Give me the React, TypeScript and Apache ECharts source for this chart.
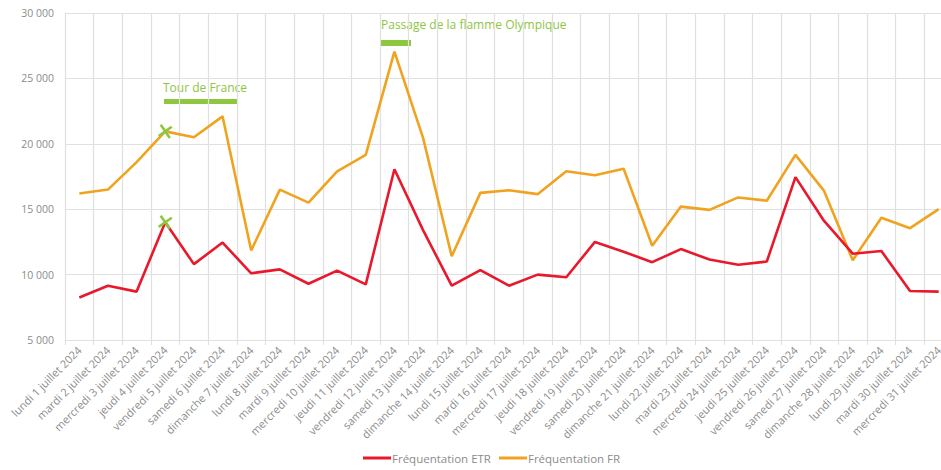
import React, { useEffect, useRef } from "react";
import * as echarts from "echarts";

const categories = [
  "lundi 1 juillet 2024", "mardi 2 juillet 2024", "mercredi 3 juillet 2024", "jeudi 4 juillet 2024",
  "vendredi 5 juillet 2024", "samedi 6 juillet 2024", "dimanche 7 juillet 2024", "lundi 8 juillet 2024",
  "mardi 9 juillet 2024", "mercredi 10 juillet 2024", "jeudi 11 juillet 2024", "vendredi 12 juillet 2024",
  "samedi 13 juillet 2024", "dimanche 14 juillet 2024", "lundi 15 juillet 2024", "mardi 16 juillet 2024",
  "mercredi 17 juillet 2024", "jeudi 18 juillet 2024", "vendredi 19 juillet 2024", "samedi 20 juillet 2024",
  "dimanche 21 juillet 2024", "lundi 22 juillet 2024", "mardi 23 juillet 2024", "mercredi 24 juillet 2024",
  "jeudi 25 juillet 2024", "vendredi 26 juillet 2024", "samedi 27 juillet 2024", "dimanche 28 juillet 2024",
  "lundi 29 juillet 2024", "mardi 30 juillet 2024", "mercredi 31 juillet 2024",
];

const frequentationETR = [
  8250, 9150, 8700, 14000, 10800, 12450, 10100, 10400, 9300, 10300, 9250, 18050, 13400, 9150, 10350, 9150,
  10000, 9800, 12500, 11750, 10950, 11950, 11150, 10750, 11000, 17450, 14100, 11600, 11800, 8750, 8700,
];

const frequentationFR = [
  16200, 16500, 18600, 20950, 20500, 22100, 11850, 16500, 15500, 17900, 19150, 27050, 20450, 11400, 16250, 16450,
  16150, 17900, 17600, 18100, 12200, 15200, 14950, 15900, 15650, 19150, 16400, 11100, 14350, 13550, 15000,
];

const yTicks = { min: 5000, max: 30000, interval: 5000 };

const seriesNames = ["Fréquentation ETR", "Fréquentation FR"];
const markerIndex = 3;

const annotations = [
  { text: "Tour de France" },
  { text: "Passage de la flamme Olympique" },
];

const GREEN = "#8dc63f";
const GRAY_TEXT = "#8c8c8c";
const GRID = "#e0e0e0";
const FONT = "'Open Sans', 'Noto Sans', sans-serif";
const crossPath = "path://M4.2,0h1.6v4.2h4.2v1.6h-4.2v4.2h-1.6v-4.2h-4.2v-1.6h4.2z";

const fmt = (v: number) => String(v).replace(/\B(?=(\d{3})+(?!\d))/g, " ");

export default function App() {
  const ref = useRef<HTMLDivElement>(null);
  useEffect(() => {
    if (!ref.current) return;
    const chart = echarts.init(ref.current, undefined, { renderer: "svg" });
    const mk = (val: number) => ({
      symbol: crossPath,
      symbolSize: 16,
      symbolRotate: 35,
      itemStyle: { color: GREEN },
      label: { show: false },
      data: [{ coord: [markerIndex, val] }],
    });
    chart.setOption({
      animation: false,
      backgroundColor: "#ffffff",
      textStyle: { fontFamily: FONT },
      grid: { left: 65, right: 0, top: 13, bottom: 130, containLabel: false },
      legend: {
        left: 358,
        bottom: 1,
        icon: "rect",
        itemWidth: 28,
        itemHeight: 3,
        itemGap: 8,
        textStyle: { color: GRAY_TEXT, fontSize: 11.5, fontFamily: FONT, padding: [0, 0, 0, -4] },
        data: seriesNames,
      },
      xAxis: {
        type: "category",
        data: categories,
        boundaryGap: true,
        axisLine: { show: true, lineStyle: { color: GRID } },
        axisTick: { show: true, length: 5, lineStyle: { color: GRID } },
        splitLine: { show: true, lineStyle: { color: GRID, width: 1.2 } },
        axisLabel: {
          interval: 0,
          rotate: 45,
          color: GRAY_TEXT,
          fontSize: 11,
          fontFamily: FONT,
          margin: 8,
        },
      },
      yAxis: {
        type: "value",
        min: yTicks.min,
        max: yTicks.max,
        interval: yTicks.interval,
        axisLine: { show: true, lineStyle: { color: GRID } },
        axisTick: { show: false },
        splitLine: { show: true, lineStyle: { color: GRID, width: 1.2 } },
        axisLabel: { color: GRAY_TEXT, fontSize: 10.5, fontFamily: FONT, margin: 11, formatter: fmt },
      },
      series: [
        {
          name: seriesNames[0],
          type: "line",
          data: frequentationETR,
          showSymbol: false,
          symbol: "none",
          color: "#e8192c",
          lineStyle: { width: 2.6, color: "#e8192c" },
          markPoint: mk(frequentationETR[markerIndex]),
          z: 3,
        },
        {
          name: seriesNames[1],
          type: "line",
          data: frequentationFR,
          showSymbol: false,
          symbol: "none",
          color: "#f0a31f",
          lineStyle: { width: 2.6, color: "#f0a31f" },
          markPoint: mk(frequentationFR[markerIndex]),
          z: 2,
        },
      ],
      graphic: [
        {
          type: "text",
          left: 163,
          top: 81,
          style: { text: annotations[0].text, fill: GREEN, font: `12px ${FONT}` },
        },
        { type: "rect", shape: { x: 164, y: 99, width: 73, height: 5 }, style: { fill: GREEN } },
        {
          type: "text",
          left: 381,
          top: 18,
          style: { text: annotations[1].text, fill: GREEN, font: `12px ${FONT}` },
        },
        { type: "rect", shape: { x: 381, y: 40, width: 30, height: 6 }, style: { fill: GREEN } },
      ],
    });
    return () => chart.dispose();
  }, []);
  return (
    <div style={{ position: "fixed", left: 0, top: 0, width: 941, height: 470, overflow: "hidden" }}>
      <div ref={ref} style={{ width: 953, height: 470 }} />
    </div>
  );
}
